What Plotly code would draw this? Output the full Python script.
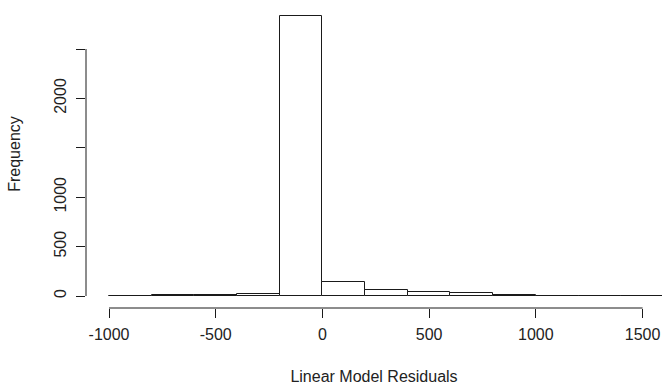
import plotly.graph_objects as go

# Histogram of residuals: bins of width 200 starting at -1000
bin_starts = [-1000, -800, -600, -400, -200, 0, 200, 400, 600, 800, 1000, 1200, 1400]
counts = [5, 14, 15, 25, 2835, 140, 56, 45, 34, 14, 5, 4, 3]
bin_width = 200

x_ticks = [-1000, -500, 0, 500, 1000, 1500]
x_tick_labels = ["-1000", "-500", "0", "500", "1000", "1500"]
y_ticks = [0, 500, 1000, 1500, 2000, 2500]
# labels that would overlap their neighbours are left blank
y_tick_labels = ["0", "500", "1000", "", "2000", ""]

font = dict(family="Liberation Sans, Arial, sans-serif", size=16, color="#222222")

centers = [s + bin_width / 2 for s in bin_starts]

fig = go.Figure(
    go.Bar(
        x=centers,
        y=counts,
        width=bin_width,
        marker=dict(color="white", line=dict(color="#1a1a1a", width=1)),
        showlegend=False,
    )
)

# R-style detached axis lines spanning only the tick range
fig.add_shape(type="line", xref="x", yref="paper",
              x0=x_ticks[0], x1=x_ticks[-1], y0=0, y1=0,
              line=dict(color="#1a1a1a", width=1))
fig.add_shape(type="line", xref="paper", yref="y",
              x0=0, x1=0, y0=y_ticks[0], y1=y_ticks[-1],
              line=dict(color="#1a1a1a", width=1))

fig.update_layout(
    width=662,
    height=388,
    margin=dict(l=86, r=0, t=0, b=80),
    paper_bgcolor="white",
    plot_bgcolor="white",
    font=font,
    bargap=0,
    xaxis=dict(
        range=[-1107.8, 1591],
        tickvals=x_ticks,
        ticktext=x_tick_labels,
        ticks="outside",
        ticklen=9,
        tickcolor="#1a1a1a",
        ticklabelstandoff=3,
        showgrid=False,
        zeroline=False,
        showline=False,
        title=dict(text="Linear Model Residuals", standoff=28, font=font),
    ),
    yaxis=dict(
        range=[-121.5, 2996],
        tickvals=y_ticks,
        ticktext=y_tick_labels,
        tickangle=-90,
        ticks="outside",
        ticklen=9,
        tickcolor="#1a1a1a",
        ticklabelstandoff=4,
        showgrid=False,
        zeroline=False,
        showline=False,
        title=dict(text="Frequency", standoff=26, font=font),
    ),
)

fig.write_html("out.html")
